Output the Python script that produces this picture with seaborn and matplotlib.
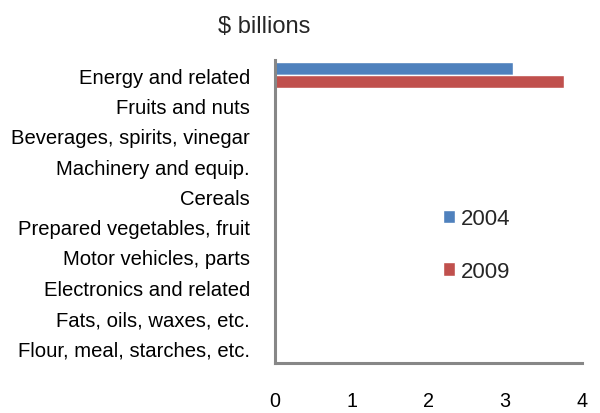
import matplotlib
matplotlib.use("Agg")
import matplotlib.pyplot as plt
import seaborn as sns
import pandas as pd

categories = [
    "Energy and related",
    "Fruits and nuts",
    "Beverages, spirits, vinegar",
    "Machinery and equip.",
    "Cereals",
    "Prepared vegetables, fruit",
    "Motor vehicles, parts",
    "Electronics and related",
    "Fats, oils, waxes, etc.",
    "Flour, meal, starches, etc.",
]
values_2004 = [3.10, 0, 0, 0, 0, 0, 0, 0, 0, 0]
values_2009 = [3.77, 0, 0, 0, 0, 0, 0, 0, 0, 0]
years = ["2004", "2009"]
x_ticks = [0, 1, 2, 3, 4]
title = "$ billions"

df = pd.DataFrame({
    "category": categories * 2,
    "value": values_2004 + values_2009,
    "year": [years[0]] * len(categories) + [years[1]] * len(categories),
})

sns.set_theme(style="white")
plt.rcParams["font.family"] = ["Liberation Sans", "DejaVu Sans"]

fig = plt.figure(figsize=(6.0, 4.14), dpi=100)
ax = fig.add_axes([275 / 600, 1 - 364 / 414, 307 / 600, 303 / 414])

sns.barplot(data=df, y="category", x="value", hue="year", orient="h",
            palette=["#4F81BD", "#C0504D"], saturation=1, width=0.835,
            order=categories, hue_order=years, ax=ax, legend=True)

ax.set_xlim(0, 4)
ax.set_ylim(len(categories) - 0.5, -0.5)
ax.set_xticks(x_ticks)
ax.set_xticklabels([str(t) for t in x_ticks])
ax.set_xlabel("")
ax.set_ylabel("")
ax.tick_params(axis="y", length=0, pad=18, labelsize=14.6, labelcolor="#000000")
ax.tick_params(axis="x", length=0, pad=20, labelsize=14.2, labelcolor="#000000")
for s in ["top", "right"]:
    ax.spines[s].set_visible(False)
for s in ["left", "bottom"]:
    ax.spines[s].set_color("#878787")
    ax.spines[s].set_linewidth(2.2)
ax.grid(False)

handles, labels = ax.get_legend_handles_labels()
ax.legend(handles, labels, loc="center left",
          bbox_to_anchor=(443 / 600, 1 - 246 / 414), bbox_transform=fig.transFigure,
          frameon=False, fontsize=16, handlelength=0.54, handleheight=0.54,
          handletextpad=0.28, labelspacing=1.42, borderpad=0, borderaxespad=0)

fig.text(264 / 600, 1 - 33 / 414, title, ha="center", va="baseline", fontsize=17)

fig.savefig("out.png", dpi=100)
